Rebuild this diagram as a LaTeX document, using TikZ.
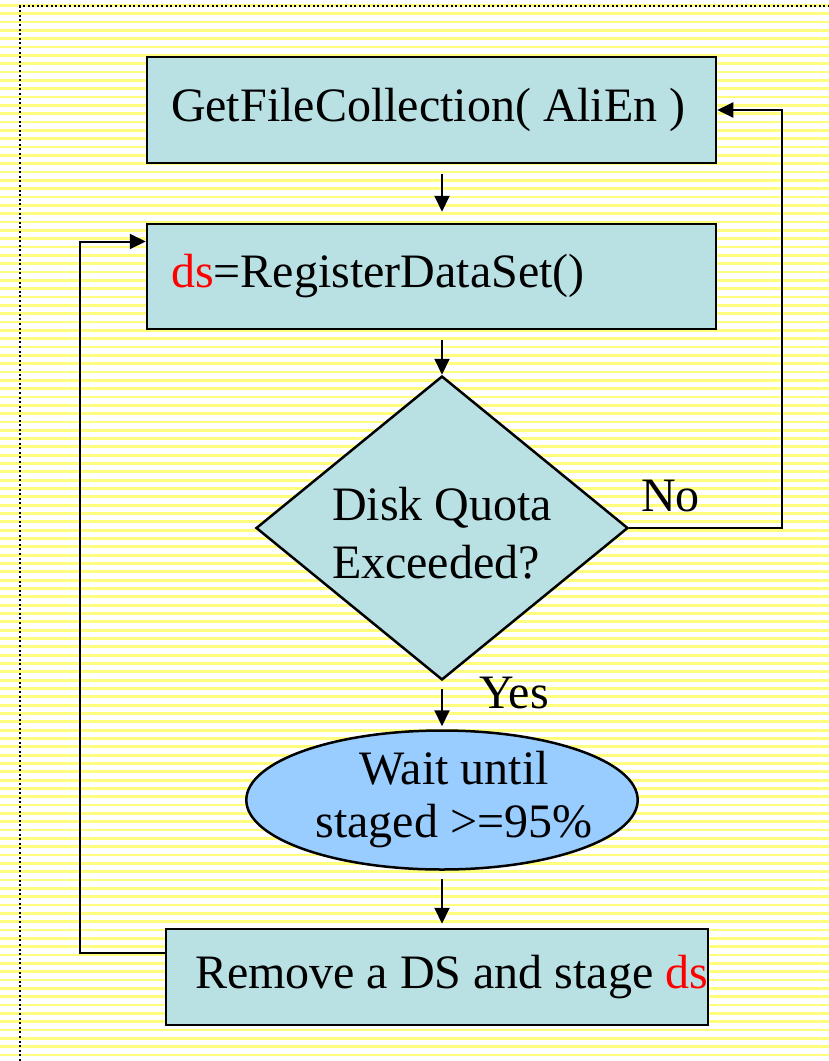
\documentclass[tikz,border=0pt]{standalone}
\usepackage{fontspec}
\setmainfont{Liberation Serif}
\usetikzlibrary{shapes.geometric, arrows.meta, positioning}
\definecolor{boxfill}{RGB}{185,224,227}
\definecolor{ovalfill}{RGB}{153,204,255}
\definecolor{stripe}{RGB}{255,255,125}
\begin{document}
\begin{tikzpicture}[x=1pt, y=-1pt,
        every node/.style={font=\fontsize{48}{58}\selectfont},
        box/.style={draw, line width=2.5pt, fill=boxfill, minimum height=106pt, inner xsep=24pt},
        arr/.style={line width=2pt, -{Triangle[length=16pt,width=15pt]}}]
    \useasboundingbox (0,0) rectangle (829,1061);
    % striped background and dotted frame
    \foreach \y in {4,12.33,...,1061}
        \fill[stripe] (0,\y) rectangle (829,\y+2.8);
    \draw[line width=2pt, dash pattern=on 2pt off 2.6pt] (20,1061) -- (20,6) -- (829,6);
    % steps
    \node[box] (b1) at (431.5,110) {\makebox[521pt][l]{GetFileCollection( AliEn )}};
    \node[box, minimum height=105pt] (b2) at (431.5,276.5) {\makebox[521pt][l]{\textcolor{red}{ds}=RegisterDataSet()}};
    \node[draw, line width=2.5pt, fill=boxfill, diamond, aspect=1.22, minimum width=372pt, minimum height=304pt, inner sep=0pt, align=left] (dq) at (442,528) {\raisebox{-5pt}[\height][\depth]{Disk Quota}\\\raisebox{-5pt}[\height][\depth]{Exceeded?}};
    \node[draw, line width=2.5pt, fill=ovalfill, ellipse, minimum width=390pt, minimum height=139pt, inner sep=0pt, align=center, font=\fontsize{48}{53}\selectfont] (wt) at (442,800) {\hspace*{12pt}Wait until\hspace*{-12pt}\\\hspace*{12pt}staged >=95\%\hspace*{-12pt}};
    \node[box, minimum height=96pt, inner xsep=29pt] (b3) at (437,977) {\makebox[484pt][l]{Remove a DS and stage \textcolor{red}{ds}}};
    % connectors
    \draw[arr, shorten <=10pt, shorten >=11pt] (b1.south -| dq.north) -- (b2.north -| dq.north);
    \draw[arr, shorten <=10pt] (b2.south -| dq.north) -- (dq.north);
    \draw[arr, shorten <=8pt, shorten >=3pt] (dq.south) node[anchor=south west, inner sep=0pt, xshift=36pt, yshift=-29pt] (yes) {Yes} -- (wt.north);
    \draw[arr, shorten <=8pt, shorten >=4pt] (wt.south) -- (b3.north -| wt.south);
    \draw[arr] (dq.east) node[anchor=south west, inner sep=0pt, xshift=11pt, yshift=15pt] (no) {No} -| ([xshift=65pt]b1.east) -- (b1.east);
    \draw[arr] ([yshift=24pt]b3.west) -- ++(-85,0) |- ([yshift=35pt]b2.west);
\end{tikzpicture}
\end{document}
